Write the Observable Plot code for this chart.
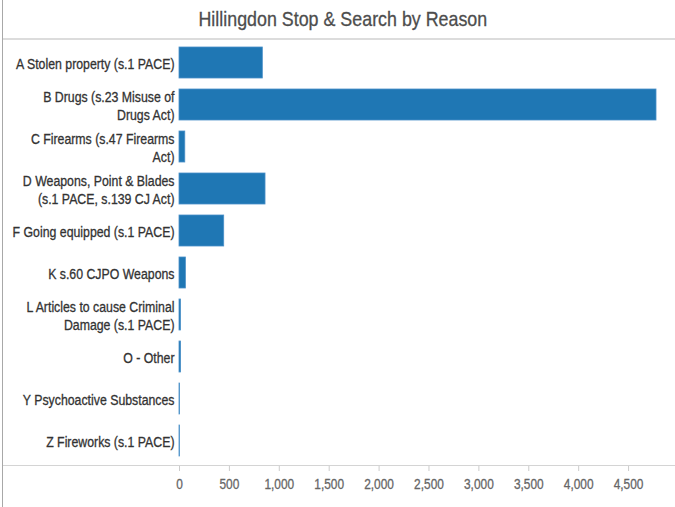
<!DOCTYPE html>
<html>
<head>
<meta charset="utf-8">
<script src="https://cdn.jsdelivr.net/npm/d3@7"></script>
<script src="https://cdn.jsdelivr.net/npm/@observablehq/plot@0.6"></script>
<style>
  html, body { margin: 0; padding: 0; background: #fff; }
  #wrap { position: relative; width: 675px; height: 507px; overflow: hidden; font-family: "Liberation Sans", Arial, sans-serif; }
  #leftline { position: absolute; left: 2px; top: 0; width: 1px; height: 507px; background: #a8a8a8; }
  #title { position: absolute; left: 3px; top: 0; width: 672px; height: 38px; border-bottom: 2px solid #dcdcdc; text-align: center; line-height: 38px; font-size: 21px; color: #4d4d4d; }
  #title span { display: inline-block; transform: scaleX(0.85); transform-origin: center; margin-left: 8px; -webkit-text-stroke: 0.3px #4d4d4d; }
  #chart { position: absolute; left: 0; top: 40px; }
  #axisline { position: absolute; left: 3px; top: 465px; width: 672px; height: 1px; background: #d4d4d4; }
</style>
</head>
<body>
<div id="wrap">
  <div id="leftline"></div>
  <div id="title"><span>Hillingdon Stop &amp; Search by Reason</span></div>
  <div id="axisline"></div>
  <div id="chart"></div>
</div>
<script>
const reasons = [
  "A Stolen property (s.1 PACE)",
  "B Drugs (s.23 Misuse of\nDrugs Act)",
  "C Firearms (s.47 Firearms\nAct)",
  "D Weapons, Point & Blades\n(s.1 PACE, s.139 CJ Act)",
  "F Going equipped (s.1 PACE)",
  "K s.60 CJPO Weapons",
  "L Articles to cause Criminal\nDamage (s.1 PACE)",
  "O - Other",
  "Y Psychoactive Substances",
  "Z Fireworks (s.1 PACE)"
];
const counts = [835, 4780, 58, 862, 448, 64, 15, 16, 5, 4];
const xTicks = [0, 500, 1000, 1500, 2000, 2500, 3000, 3500, 4000, 4500];

const data = reasons.map((r, i) => ({reason: r, count: counts[i]}));

const chart = Plot.plot({
  width: 675,
  height: 467,
  marginLeft: 179,
  marginRight: 17,
  marginTop: 0,
  marginBottom: 41,
  style: {fontFamily: '"Liberation Sans", Arial, sans-serif', background: "transparent"},
  x: {domain: [0, 4800], ticks: xTicks, tickFormat: d3.format(",")},
  y: {domain: reasons, range: [0.5, 421.7], paddingInner: 0.269, paddingOuter: 0.1},
  marks: [
    Plot.barX(data, {x: "count", y: "reason", fill: "#1f77b4", stroke: "#4a90c8", strokeWidth: 0.8}),
    Plot.axisY({tickSize: 0, tickPadding: 5, label: null, fontSize: 14.5, fill: "#333", lineHeight: 1.3, textAnchor: "end"}),
    Plot.axisX({tickSize: 5, tickPadding: 8, label: null, fontSize: 14, fill: "#666", stroke: "#ccc", ticks: xTicks, tickFormat: d3.format(",")})
  ]
});
// condense text to mimic a narrow typeface, with slight extra weight
chart.querySelectorAll("text").forEach(t => {
  const tr = t.getAttribute("transform") || "";
  t.setAttribute("transform", tr + " scale(0.85,1)");
  const f = t.getAttribute("fill") || (t.parentNode && t.parentNode.getAttribute("fill")) || "#333";
  t.setAttribute("stroke", f);
  t.setAttribute("stroke-width", "0.3");
});
document.getElementById("chart").appendChild(chart);
</script>
</body>
</html>
